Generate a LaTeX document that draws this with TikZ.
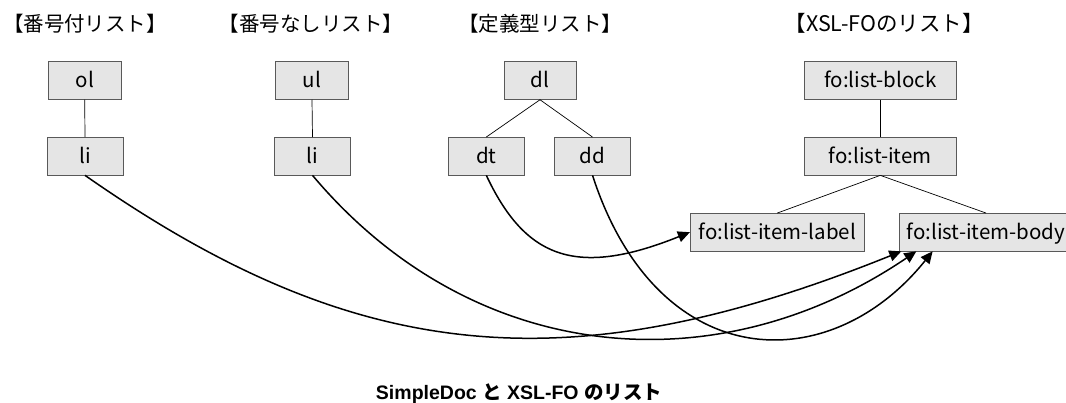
\documentclass[tikz,border=0pt]{standalone}
\usepackage{fontspec}
\setsansfont{Liberation Sans}
\newfontfamily\jp{Noto Sans CJK JP}
\usetikzlibrary{arrows.meta}
\begin{document}
\begin{tikzpicture}[x=1pt,y=-1pt,
  box/.style={draw=black!65, fill=black!10, line width=0.8pt, minimum height=37.5pt,
    inner sep=0pt, text height=14.5pt, text depth=0pt, font=\jp\fontsize{20.5}{20.5}\selectfont},
  tree/.style={draw=black, line width=0.7pt},
  conn/.style={draw=black, line width=1.5pt, -{Triangle[length=12pt,width=11pt]}},
  title/.style={font=\jp\fontsize{20.5}{20.5}\selectfont, inner sep=0pt}]
\useasboundingbox (0,0) rectangle (1066,403);

% titles
\node[title] (t1) at (85,23.3) {【番号付リスト】};
\node[title] (t2) at (310.8,23.3) {【番号なしリスト】};
\node[title] (t3) at (540,23.3) {【定義型リスト】};
\node[title, font=\jp\fontsize{21.5}{21.5}\selectfont] (t4) at (884.2,23.3) {【XSL-FOのリスト】};

% boxes
\node[box, minimum width=73pt] (ol) at (84.7,80.6) {ol};
\node[box, minimum width=76pt] (li1) at (85,156.2) {li};
\node[box, minimum width=73pt] (ul) at (312,80.6) {ul};
\node[box, minimum width=76pt] (li2) at (312.5,156.2) {li};
\node[box, minimum width=72pt] (dl) at (540,80.6) {dl};
\node[box, minimum width=76pt] (dt) at (486.3,156.2) {dt};
\node[box, minimum width=76pt] (dd) at (592.5,156.2) {dd};
\node[box, minimum width=152pt] (lb) at (880.3,80.6) {fo:list-block};
\node[box, minimum width=152pt] (lit) at (880.3,156.2) {fo:list-item};
\node[box, minimum width=174pt] (lab) at (777.3,232.2) {fo:list-item-label};
\node[box, minimum width=174pt] (body) at (986,232.2) {fo:list-item-body};

% tree lines
\draw[tree] (ol.south) -- (li1.north);
\draw[tree] (ul.south) -- (li2.north);
\draw[tree] (dl.south) -- (dt.north);
\draw[tree] (dl.south) -- (dd.north);
\draw[tree] (lb.south) -- (lit.north);
\draw[tree] (lit.south) -- (lab.north);
\draw[tree] (lit.south) -- (body.north);

% end points on fo:list-item-body
\coordinate (e1) at ([xshift=2.7pt]body.south west);
\coordinate (e2) at ([xshift=17.7pt]body.south west);
\coordinate (e3) at ([xshift=34pt]body.south west);

% curved connectors
\draw[conn] (li1.south) .. controls (355.3,364.4) and (567.6,385.9) .. (e1);
\draw[conn] (li2.south) .. controls (473.3,366.5) and (717.7,386.2) .. (e2);
\draw[conn] (dd.south) .. controls (657.2,374.7) and (829.2,380.2) .. (e3);
\draw[conn] (dt.south) .. controls (524.6,256.5) and (574.1,278.9) .. (lab.west);

% caption
\node[inner sep=0pt, font=\sffamily\bfseries\fontsize{19.5}{19.5}\selectfont] (cap) at (519,394)
  {SimpleDoc {\jp と} XSL-FO {\jp のリスト}};
\end{tikzpicture}
\end{document}
